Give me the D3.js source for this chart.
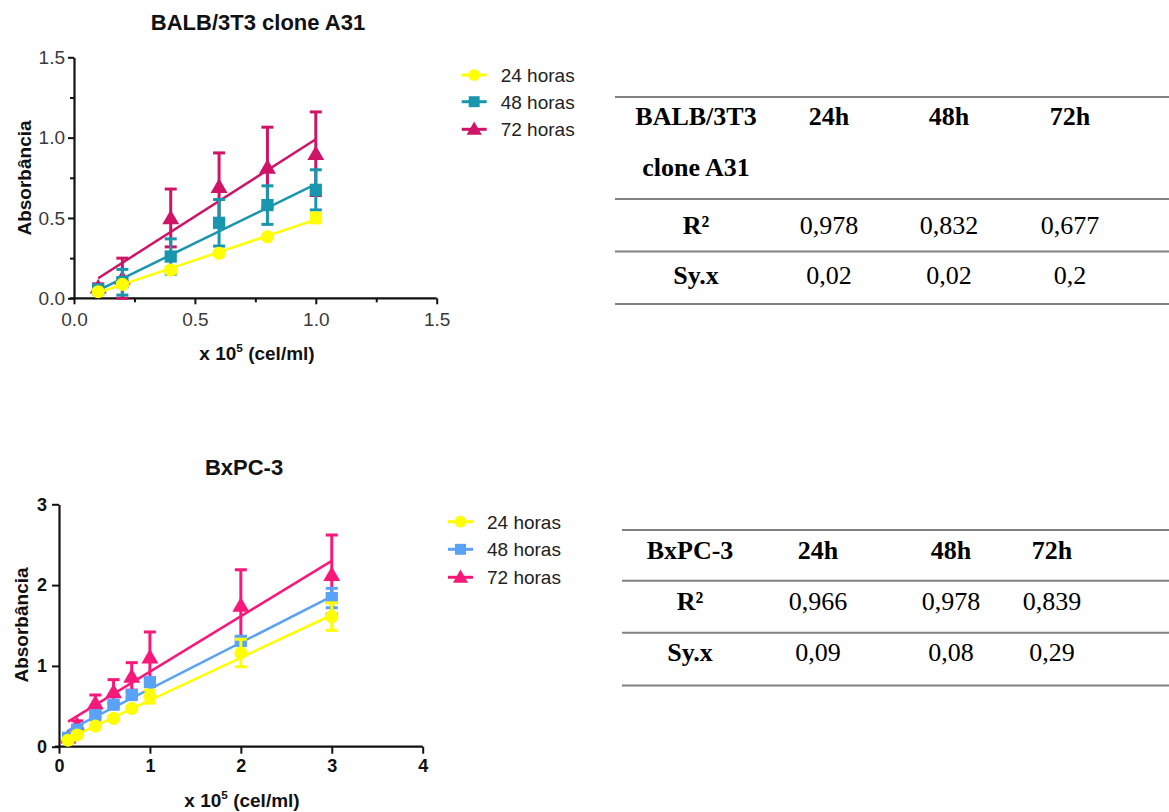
<!DOCTYPE html>
<html>
<head>
<meta charset="utf-8">
<script src="https://cdn.jsdelivr.net/npm/d3@7"></script>
<style>
  html, body { margin: 0; padding: 0; background: #fff; }
  svg { display: block; }
</style>
</head>
<body>
<svg id="chart" width="1169" height="812"></svg>
<script>
// ---------------- DATA ----------------
const seriesNames = ["24 horas", "48 horas", "72 horas"];

// Chart 1: BALB/3T3 clone A31
const topTitle = "BALB/3T3 clone A31";
const topX = [0.1, 0.2, 0.4, 0.6, 0.8, 1.0];
const top24 = [0.041, 0.087, 0.176, 0.28, 0.383, 0.50];
const top24Err = [0.01, 0.01, 0.02, 0.01, 0.01, 0.03];
const top48 = [0.056, 0.10, 0.26, 0.47, 0.58, 0.675];
const top48Err = [0.015, 0.08, 0.11, 0.145, 0.12, 0.125];
const top72 = [0.07, 0.125, 0.50, 0.695, 0.815, 0.90];
const top72Err = [0.02, 0.125, 0.18, 0.21, 0.25, 0.26];
const topFit24 = [0.035, 0.49];
const topFit48 = [0.05, 0.71];
const topFit72 = [0.125, 0.99];
const topXTicks = [0, 0.5, 1.0, 1.5];
const topYTicks = [0, 0.5, 1.0, 1.5];
const topMinorTicks = [0.25, 0.75, 1.25];

// Chart 2: BxPC-3
const botTitle = "BxPC-3";
const botX = [0.1, 0.2, 0.4, 0.6, 0.8, 1.0, 2.0, 3.0];
const bot24 = [0.08, 0.145, 0.256, 0.35, 0.475, 0.62, 1.16, 1.61];
const bot24Err = [0.01, 0.02, 0.02, 0.02, 0.02, 0.08, 0.17, 0.17];
const bot48 = [0.11, 0.21, 0.39, 0.52, 0.64, 0.80, 1.31, 1.84];
const bot48Err = [0.02, 0.02, 0.03, 0.03, 0.03, 0.04, 0.04, 0.12];
const bot72 = [0.12, 0.27, 0.54, 0.68, 0.87, 1.11, 1.75, 2.13];
const bot72Err = [0.03, 0.05, 0.10, 0.15, 0.17, 0.31, 0.44, 0.49];
const botFit24 = [0.10, 1.63];
const botFit48 = [0.20, 1.86];
const botFit72 = [0.31, 2.30];
const botXTicks = [0, 1, 2, 3, 4];
const botYTicks = [0, 1, 2, 3];

// Tables
const table1Header = ["BALB/3T3", "24h", "48h", "72h"];
const table1Header2 = "clone A31";
const table1R2 = ["R²", "0,978", "0,832", "0,677"];
const table1Syx = ["Sy.x", "0,02", "0,02", "0,2"];
const table2Header = ["BxPC-3", "24h", "48h", "72h"];
const table2R2 = ["R²", "0,966", "0,978", "0,839"];
const table2Syx = ["Sy.x", "0,09", "0,08", "0,29"];

// ---------------- DRAWING ----------------
const svg = d3.select("#chart");
const sans = "Arial, 'Liberation Sans', Helvetica, sans-serif";
const serif = "'Times New Roman', 'Liberation Serif', serif";

function symbolFor(i) {
  return [d3.symbolCircle, d3.symbolSquare, d3.symbolTriangle][i];
}
function symbolSize(i) { return [135, 150, 125][i]; }

function drawChart(cfg) {
  const g = svg.append("g");
  const x = d3.scaleLinear().domain(cfg.xDomain).range(cfg.xRange);
  const y = d3.scaleLinear().domain(cfg.yDomain).range(cfg.yRange);

  // title
  g.append("text").attr("x", cfg.titleX).attr("y", cfg.titleY)
    .attr("text-anchor", "middle").attr("font-family", sans)
    .attr("font-weight", "bold").attr("font-size", cfg.titleSize).attr("fill", "#111")
    .text(cfg.title);

  // axes
  const xAxis = d3.axisBottom(x).tickValues(cfg.xTicks).tickSize(cfg.tick).tickSizeOuter(0)
    .tickPadding(cfg.xPad).tickFormat(cfg.fmt);
  const yAxis = d3.axisLeft(y).tickValues(cfg.yTicks).tickSize(cfg.tick).tickSizeOuter(0)
    .tickPadding(cfg.yPad).tickFormat(cfg.fmt);
  const gx = g.append("g").attr("transform", `translate(0,${cfg.yRange[0]})`).call(xAxis);
  const gy = g.append("g").attr("transform", `translate(${cfg.xRange[0]},0)`).call(yAxis);
  [gx, gy].forEach(a => {
    a.select(".domain").attr("stroke", "#111").attr("stroke-width", 2.2);
    a.selectAll(".tick line").attr("stroke", "#111").attr("stroke-width", 2);
    a.selectAll(".tick text").attr("font-family", sans).attr("font-size", cfg.tickSize)
      .attr("font-weight", cfg.tickWeight).attr("fill", cfg.tickColor);
  });
  gx.select(".domain").attr("d", `M${cfg.xRange[0] - 4},0H${cfg.xRange[1]}`);
  if (cfg.minor) {
    g.append("g").attr("transform", `translate(0,${cfg.yRange[0]})`)
      .call(d3.axisBottom(x).tickValues(cfg.minor).tickSize(4).tickFormat(""))
      .call(a => { a.select(".domain").remove(); a.selectAll("line").attr("stroke", "#111").attr("stroke-width", 2); });
    g.append("g").attr("transform", `translate(${cfg.xRange[0]},0)`)
      .call(d3.axisLeft(y).tickValues(cfg.minor).tickSize(4).tickFormat(""))
      .call(a => { a.select(".domain").remove(); a.selectAll("line").attr("stroke", "#111").attr("stroke-width", 2); });
  }

  // axis titles
  const xl = g.append("text").attr("x", cfg.xLabelX).attr("y", cfg.xLabelY)
    .attr("text-anchor", "middle").attr("font-family", sans).attr("font-weight", "bold")
    .attr("font-size", cfg.labelSize).attr("fill", "#111");
  xl.append("tspan").text("x 10");
  xl.append("tspan").attr("font-size", cfg.labelSize * 0.62).attr("dy", -8).text("5");
  xl.append("tspan").attr("dy", 8).text(" (cel/ml)");
  g.append("text").attr("transform", `translate(${cfg.yLabelX},${cfg.yLabelY}) rotate(-90)`)
    .attr("text-anchor", "middle").attr("font-family", sans).attr("font-weight", "bold")
    .attr("font-size", cfg.labelSize).attr("fill", "#111").text("Absorbância");

  // series: draw 72h first, 24h last (on top)
  const order = [2, 1, 0];
  order.forEach(i => {
    const s = cfg.series[i];
    const col = cfg.colors[i];
    const sg = g.append("g");
    // fit line
    sg.append("line")
      .attr("x1", x(cfg.xData[0])).attr("y1", y(s.fit[0]))
      .attr("x2", x(cfg.xData[cfg.xData.length - 1])).attr("y2", y(s.fit[1]))
      .attr("stroke", col).attr("stroke-width", 2.5);
    // error bars
    cfg.xData.forEach((xv, k) => {
      const v = s.vals[k], e = s.errs[k];
      const px = x(xv);
      sg.append("line").attr("x1", px).attr("x2", px).attr("y1", y(v - e)).attr("y2", y(v + e))
        .attr("stroke", col).attr("stroke-width", 3);
      [v - e, v + e].forEach(ev => {
        sg.append("line").attr("x1", px - 6).attr("x2", px + 6).attr("y1", y(ev)).attr("y2", y(ev))
          .attr("stroke", col).attr("stroke-width", 3);
      });
    });
    // markers
    sg.selectAll("path.m").data(cfg.xData).enter().append("path")
      .attr("transform", (d, k) => `translate(${x(d)},${y(s.vals[k]) + (i === 2 ? 1.5 : 0)})`)
      .attr("d", d3.symbol().type(symbolFor(i)).size(symbolSize(i)))
      .attr("fill", col);
  });

  // legend
  seriesNames.forEach((name, i) => {
    const ly = cfg.legendY[i];
    const lg = g.append("g");
    lg.append("line").attr("x1", cfg.legendX).attr("x2", cfg.legendX + 25)
      .attr("y1", ly).attr("y2", ly).attr("stroke", cfg.colors[i]).attr("stroke-width", 3);
    lg.append("path").attr("transform", `translate(${cfg.legendX + 12.5},${ly + (i === 2 ? 1 : 0)})`)
      .attr("d", d3.symbol().type(symbolFor(i)).size(symbolSize(i) * 0.8)).attr("fill", cfg.colors[i]);
    lg.append("text").attr("x", cfg.legendX + 39).attr("y", ly).attr("dy", "0.36em")
      .attr("font-family", sans).attr("font-size", 19).attr("fill", "#222").text(name);
  });
}

drawChart({
  title: topTitle, titleX: 258, titleY: 30, titleSize: 22,
  xDomain: [0, 1.5], xRange: [74, 436.7], yDomain: [0, 1.5], yRange: [298.3, 57.3],
  xTicks: topXTicks, yTicks: topYTicks, minor: topMinorTicks, tick: 6,
  xPad: 8, yPad: 3, fmt: d3.format(".1f"), tickSize: 19, tickWeight: "normal", tickColor: "#3a3a3a",
  xLabelX: 257, xLabelY: 360, yLabelX: 31, yLabelY: 178, labelSize: 19,
  xData: topX,
  series: [
    { vals: top24, errs: top24Err, fit: topFit24 },
    { vals: top48, errs: top48Err, fit: topFit48 },
    { vals: top72, errs: top72Err, fit: topFit72 }
  ],
  colors: ["#ffff00", "#1796ae", "#cf1468"],
  legendX: 461.7, legendY: [75, 101.7, 129.3]
});

drawChart({
  title: botTitle, titleX: 244, titleY: 475, titleSize: 22,
  xDomain: [0, 4], xRange: [59, 422.7], yDomain: [0, 3], yRange: [746.7, 504.3],
  xTicks: botXTicks, yTicks: botYTicks, minor: null, tick: 7,
  xPad: 6, yPad: 5, fmt: d3.format("d"), tickSize: 18, tickWeight: "bold", tickColor: "#111",
  xLabelX: 242, xLabelY: 807, yLabelX: 28, yLabelY: 625, labelSize: 19,
  xData: botX,
  series: [
    { vals: bot24, errs: bot24Err, fit: botFit24 },
    { vals: bot48, errs: bot48Err, fit: botFit48 },
    { vals: bot72, errs: bot72Err, fit: botFit72 }
  ],
  colors: ["#ffff00", "#5aa2f5", "#f7197a"],
  legendX: 448, legendY: [521.7, 549.3, 577.3]
});

// ---------------- TABLES ----------------
function drawTable(cfg) {
  const g = svg.append("g");
  cfg.lines.forEach(ly => {
    g.append("line").attr("x1", cfg.x0).attr("x2", cfg.x1).attr("y1", ly).attr("y2", ly)
      .attr("stroke", "#808080").attr("stroke-width", 2);
  });
  cfg.rows.forEach(r => {
    r.cells.forEach((txt, c) => {
      g.append("text").attr("x", cfg.cols[c]).attr("y", r.y).attr("dy", "0.35em")
        .attr("text-anchor", r.anchor && r.anchor[c] ? r.anchor[c] : "middle")
        .attr("font-family", serif).attr("font-size", 26)
        .attr("font-weight", (r.bold || c === 0) ? "bold" : "normal")
        .attr("fill", "#000").text(txt);
    });
  });
}

drawTable({
  x0: 615, x1: 1169, lines: [97, 199, 251.5, 304],
  cols: [696, 829, 949, 1070],
  rows: [
    { y: 116, cells: table1Header, bold: true },
    { y: 167, cells: [table1Header2], bold: true },
    { y: 225, cells: table1R2 },
    { y: 275, cells: table1Syx }
  ]
});

drawTable({
  x0: 622, x1: 1169, lines: [530, 580.7, 632.7, 685.5],
  cols: [690, 818, 951, 1052],
  rows: [
    { y: 550, cells: table2Header, bold: true },
    { y: 601, cells: table2R2 },
    { y: 652, cells: table2Syx }
  ]
});
</script>
</body>
</html>
